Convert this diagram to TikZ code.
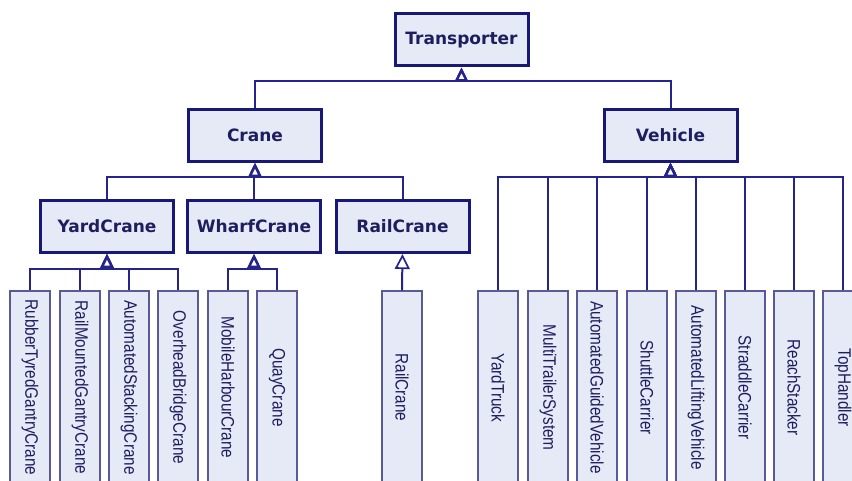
\documentclass[tikz,border=0pt]{standalone}
\usepackage{fontspec}
\setmainfont{Liberation Sans}
\newfontfamily\hdfont{DejaVu Sans}
\usetikzlibrary{arrows.meta}
\definecolor{boxfill}{RGB}{230,234,247}
\definecolor{boxline}{RGB}{24,24,120}
\definecolor{subline}{RGB}{90,90,150}
\definecolor{lineclr}{RGB}{36,36,140}
\definecolor{txt}{RGB}{30,30,95}
\newcommand{\tall}[1]{\scalebox{1}[1.18]{#1}}
\tikzset{
  cls/.style={draw=boxline, line width=3pt, fill=boxfill, minimum width=133pt, minimum height=52pt, inner sep=0pt, text=txt, font=\hdfont\bfseries\fontsize{17}{17}\selectfont},
  sub/.style={draw=subline, line width=1.4pt, fill=boxfill, rotate=-90, minimum width=193pt, minimum height=40pt, inner sep=0pt, text=txt, font=\fontsize{15.3}{15.3}\selectfont},
  conn/.style={draw=lineclr, line width=2pt},
  inhb/.style={-{Triangle[open, length=14pt, width=13pt, line width=2.4pt, fill=white]}},
  inhs/.style={-{Triangle[open, length=15pt, width=15pt, line width=1.7pt, fill=white]}}
}
\begin{document}
\begin{tikzpicture}[x=1pt, y=-1pt]
\useasboundingbox (0,0) rectangle (852,481);
\fill[white] (0,0) rectangle (852,481);
\begin{scope}
\clip (0,0) rectangle (852,481);
% top level classes
\node[cls] (trans) at (461.5,40) {Transporter};
\node[cls] (crane) at (255,135.5) {Crane};
\node[cls] (veh) at (670.5,135.5) {Vehicle};
\node[cls] (yard) at (107,226.5) {YardCrane};
\node[cls] (wharf) at (254,226.5) {WharfCrane};
\node[cls] (rail) at (402.5,226.5) {RailCrane};
% crane subclasses
\node[sub] (rtg) at (30,387.5) {\tall{RubberTyredGantryCrane}};
\node[sub] (rmg) at (80,387.5) {\tall{RailMountedGantryCrane}};
\node[sub] (asc) at (129,387.5) {\tall{AutomatedStackingCrane}};
\node[sub] (obc) at (178,387.5) {\tall{OverheadBridgeCrane}};
\node[sub] (mhc) at (228,387.5) {\tall{MobileHarbourCrane}};
\node[sub] (qc) at (277,387.5) {\tall{QuayCrane}};
\node[sub] (rc) at (402,387.5) {\tall{RailCrane}};
% vehicle subclasses
\node[sub] (yt) at (498,387.5) {\tall{YardTruck}};
\node[sub] (mts) at (548,387.5) {\tall{MultiTrailerSystem}};
\node[sub] (agv) at (597,387.5) {\tall{AutomatedGuidedVehicle}};
\node[sub] (sc) at (647,387.5) {\tall{ShuttleCarrier}};
\node[sub] (alv) at (696,387.5) {\tall{AutomatedLiftingVehicle}};
\node[sub] (stc) at (745,387.5) {\tall{StraddleCarrier}};
\node[sub] (rs) at (794,387.5) {\tall{ReachStacker}};
\node[sub] (th) at (843,387.5) {\tall{TopHandler}};
% junction points
\path (trans.south) ++(0,14) coordinate (tj);
\path (crane.south) ++(0,14) coordinate (cj);
\path (veh.south) ++(0,14) coordinate (vj);
\path (yard.south) ++(0,15) coordinate (yj);
\path (wharf.south) ++(0,15) coordinate (wj);
% connectors
\foreach \c in {crane,veh} \draw[conn,inhb] (\c.north) |- (tj) -- (trans.south);
\foreach \c in {yard,wharf,rail} \draw[conn,inhb] (\c.north) |- (cj) -- (crane.south);
\foreach \c in {yt,mts,agv,sc,alv,stc,rs,th} \draw[conn,inhb] (\c.west) |- (vj) -- (veh.south);
\foreach \c in {rtg,rmg,asc,obc} \draw[conn,inhb] (\c.west) |- (yj) -- (yard.south);
\foreach \c in {mhc,qc} \draw[conn,inhb] (\c.west) |- (wj) -- (wharf.south);
\draw[conn,inhs] (rc.west) -- (rail.south);
\end{scope}
\end{tikzpicture}
\end{document}
